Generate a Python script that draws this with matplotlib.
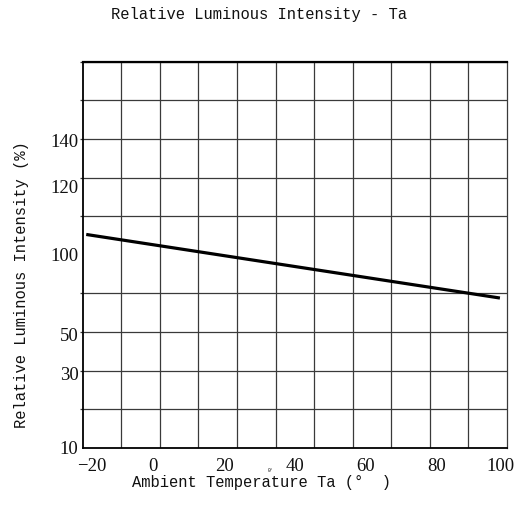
import numpy as np
import matplotlib
matplotlib.use("Agg")
import matplotlib.pyplot as plt
import matplotlib.transforms as mtransforms

# ---- data ----
temps = [-19, 98]            # Ambient temperature (deg C)
intensity = [106, 73]        # Relative luminous intensity (%)

x_tick_values = [-20, 0, 20, 40, 60, 80, 100]
y_tick_values = [10, 30, 50, 100, 120, 140]

# printed (non-linear) intensity scale: value -> grid rows from bottom
scale_values = [10, 30, 50, 100, 120, 140, 175]
scale_positions = [0.0, 1.94, 2.93, 5.0, 6.76, 7.95, 10.0]

n_cols = 11
n_rows = 10


def fwd(v):
    return np.interp(v, scale_values, scale_positions)


def inv(p):
    return np.interp(p, scale_positions, scale_values)


mono = ["Liberation Mono", "DejaVu Sans Mono"]
serif = ["Liberation Serif", "DejaVu Serif"]

W, H = 519, 512
fig = plt.figure(figsize=(W / 100, H / 100), dpi=100)
fig.patch.set_facecolor("white")
left, right, top, bottom = 82.7, 507, 61.7, 448
ax = fig.add_axes([left / W, 1 - bottom / H, (right - left) / W, (bottom - top) / H])

ax.set_yscale("function", functions=(fwd, inv))
ax.set_xlim(-20, 100)
ax.set_ylim(10, 175)

# grid (11 x 10 cells)
xgrid = np.linspace(-20, 100, n_cols + 1)
ygrid = inv(np.arange(n_rows + 1))
ax.set_xticks(xgrid, minor=True)
ax.set_yticks(ygrid, minor=True)
ax.grid(which="minor", color="#3a3a3a", lw=0.9)
ax.grid(which="major", visible=False)

ax.set_xticks(x_tick_values)
ax.set_xticklabels([f"{v}".replace("-", "\u2212") for v in x_tick_values])
ax.set_yticks(y_tick_values)
ax.set_yticklabels([f"{v}" for v in y_tick_values])

ax.tick_params(axis="x", which="both", length=0, pad=7)
ax.tick_params(axis="y", which="major", length=0, pad=3)
ax.tick_params(axis="y", which="minor", length=2, width=0.9, color="#3a3a3a")
for lab in ax.get_xticklabels() + ax.get_yticklabels():
    lab.set_fontfamily(serif)
    lab.set_fontsize(13.5)
    lab.set_color("#111111")

# nudge end x labels inward as in the reference
xl = ax.get_xticklabels()
xl[0].set_transform(xl[0].get_transform() + mtransforms.ScaledTranslation(9 / 100, 0, fig.dpi_scale_trans))
xl[-1].set_transform(xl[-1].get_transform() + mtransforms.ScaledTranslation(-7 / 100, 0, fig.dpi_scale_trans))

for s in ["left", "bottom"]:
    ax.spines[s].set_linewidth(1.3)
    ax.spines[s].set_color("black")
ax.spines["top"].set_linewidth(1.6)
ax.spines["top"].set_color("black")
ax.spines["right"].set_linewidth(0.9)
ax.spines["right"].set_color("#3a3a3a")

ax.plot(temps, intensity, color="black", lw=2.3, solid_capstyle="butt", zorder=5)

fig.text(259 / W, 1 - 15 / H, "Relative Luminous Intensity - Ta", ha="center", va="center",
         fontsize=11.2, family=mono, color="#111111")
fig.text(22 / W, 1 - 285 / H, "Relative Luminous Intensity (%)", ha="center", va="center",
         rotation=90, fontsize=11.2, family=mono, color="#111111")
fig.text(261.7 / W, 1 - 483 / H, "Ambient Temperature Ta (°  )", ha="center", va="center",
         fontsize=11.2, family=mono, color="#111111")
fig.text(271 / W, 1 - 470 / H, "0°", ha="center", va="center", fontsize=3.5, family=mono,
         color="#111111")

fig.savefig("out.png", dpi=100)
